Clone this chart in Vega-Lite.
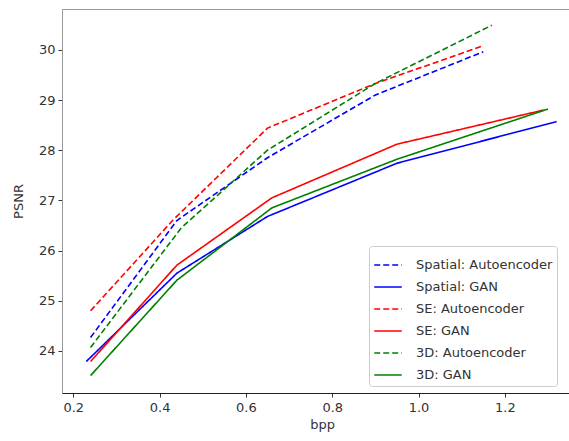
{
  "$schema": "https://vega.github.io/schema/vega-lite/v6.json",
  "autosize": {"type": "none"},
  "padding": {"left": 62, "top": 9, "right": 0, "bottom": 48},
  "width": 508,
  "height": 384,
  "background": "white",
  "config": {
    "view": {"stroke": "#999", "strokeWidth": 1},
    "font": "DejaVu Sans",
    "axis": {
      "labelFont": "DejaVu Sans", "labelFontSize": 13, "labelColor": "#333",
      "titleFont": "DejaVu Sans", "titleFontSize": 13, "titleFontWeight": "normal", "titleColor": "#333",
      "tickColor": "#333", "tickSize": 4, "grid": false, "labelPadding": 3
    }
  },
  "data": {
    "values": [
      {"s": "Spatial: Autoencoder", "bpp": 0.24, "psnr": 24.27},
      {"s": "Spatial: Autoencoder", "bpp": 0.44, "psnr": 26.6},
      {"s": "Spatial: Autoencoder", "bpp": 0.65, "psnr": 27.85},
      {"s": "Spatial: Autoencoder", "bpp": 0.9, "psnr": 29.1},
      {"s": "Spatial: Autoencoder", "bpp": 1.15, "psnr": 29.96},
      {"s": "Spatial: GAN", "bpp": 0.23, "psnr": 23.79},
      {"s": "Spatial: GAN", "bpp": 0.44, "psnr": 25.55},
      {"s": "Spatial: GAN", "bpp": 0.65, "psnr": 26.68},
      {"s": "Spatial: GAN", "bpp": 0.95, "psnr": 27.74},
      {"s": "Spatial: GAN", "bpp": 1.32, "psnr": 28.57},
      {"s": "SE: Autoencoder", "bpp": 0.24, "psnr": 24.8},
      {"s": "SE: Autoencoder", "bpp": 0.43, "psnr": 26.6},
      {"s": "SE: Autoencoder", "bpp": 0.65, "psnr": 28.44},
      {"s": "SE: Autoencoder", "bpp": 0.9, "psnr": 29.33},
      {"s": "SE: Autoencoder", "bpp": 1.15, "psnr": 30.08},
      {"s": "SE: GAN", "bpp": 0.24, "psnr": 23.79},
      {"s": "SE: GAN", "bpp": 0.44, "psnr": 25.71},
      {"s": "SE: GAN", "bpp": 0.66, "psnr": 27.05},
      {"s": "SE: GAN", "bpp": 0.95, "psnr": 28.12},
      {"s": "SE: GAN", "bpp": 1.29, "psnr": 28.8},
      {"s": "3D: Autoencoder", "bpp": 0.24, "psnr": 24.07},
      {"s": "3D: Autoencoder", "bpp": 0.45, "psnr": 26.45},
      {"s": "3D: Autoencoder", "bpp": 0.65, "psnr": 28.0},
      {"s": "3D: Autoencoder", "bpp": 0.9, "psnr": 29.33},
      {"s": "3D: Autoencoder", "bpp": 1.17, "psnr": 30.49},
      {"s": "3D: GAN", "bpp": 0.24, "psnr": 23.51},
      {"s": "3D: GAN", "bpp": 0.44, "psnr": 25.41},
      {"s": "3D: GAN", "bpp": 0.66, "psnr": 26.85},
      {"s": "3D: GAN", "bpp": 0.95, "psnr": 27.82},
      {"s": "3D: GAN", "bpp": 1.3, "psnr": 28.82}
    ]
  },
  "mark": {"type": "line", "strokeWidth": 1.6},
  "encoding": {
    "x": {
      "field": "bpp", "type": "quantitative",
      "scale": {"domain": [0.1738, 1.351], "nice": false, "zero": false},
      "axis": {"values": [0.2, 0.4, 0.6, 0.8, 1.0, 1.2], "format": ".1f", "title": "bpp", "domainColor": "#222", "titlePadding": 4, "labelPadding": 4, "titleX": 260}
    },
    "y": {
      "field": "psnr", "type": "quantitative",
      "scale": {"domain": [23.163, 30.813], "nice": false, "zero": false},
      "axis": {"values": [24, 25, 26, 27, 28, 29, 30], "title": "PSNR", "domainColor": "#999", "titlePadding": 13}
    },
    "color": {
      "field": "s", "type": "nominal",
      "scale": {
        "domain": ["Spatial: Autoencoder", "Spatial: GAN", "SE: Autoencoder", "SE: GAN", "3D: Autoencoder", "3D: GAN"],
        "range": ["#0000ff", "#0000ff", "#ff0000", "#ff0000", "#008000", "#008000"]
      },
      "legend": {
        "title": null, "orient": "none", "legendX": 307, "legendY": 237,
        "symbolType": "stroke", "symbolSize": 760, "symbolStrokeWidth": 1.6,
        "labelFont": "DejaVu Sans", "labelFontSize": 13, "labelColor": "#333",
        "fillColor": "white", "strokeColor": "#ccc", "cornerRadius": 3, "padding": 4,
        "rowPadding": 0, "labelOffset": 13, "labelLimit": 300
      }
    },
    "strokeDash": {
      "field": "s", "type": "nominal",
      "scale": {
        "domain": ["Spatial: Autoencoder", "Spatial: GAN", "SE: Autoencoder", "SE: GAN", "3D: Autoencoder", "3D: GAN"],
        "range": [[6, 3], [1, 0], [6, 3], [1, 0], [6, 3], [1, 0]]
      },
      "legend": null
    }
  }
}
